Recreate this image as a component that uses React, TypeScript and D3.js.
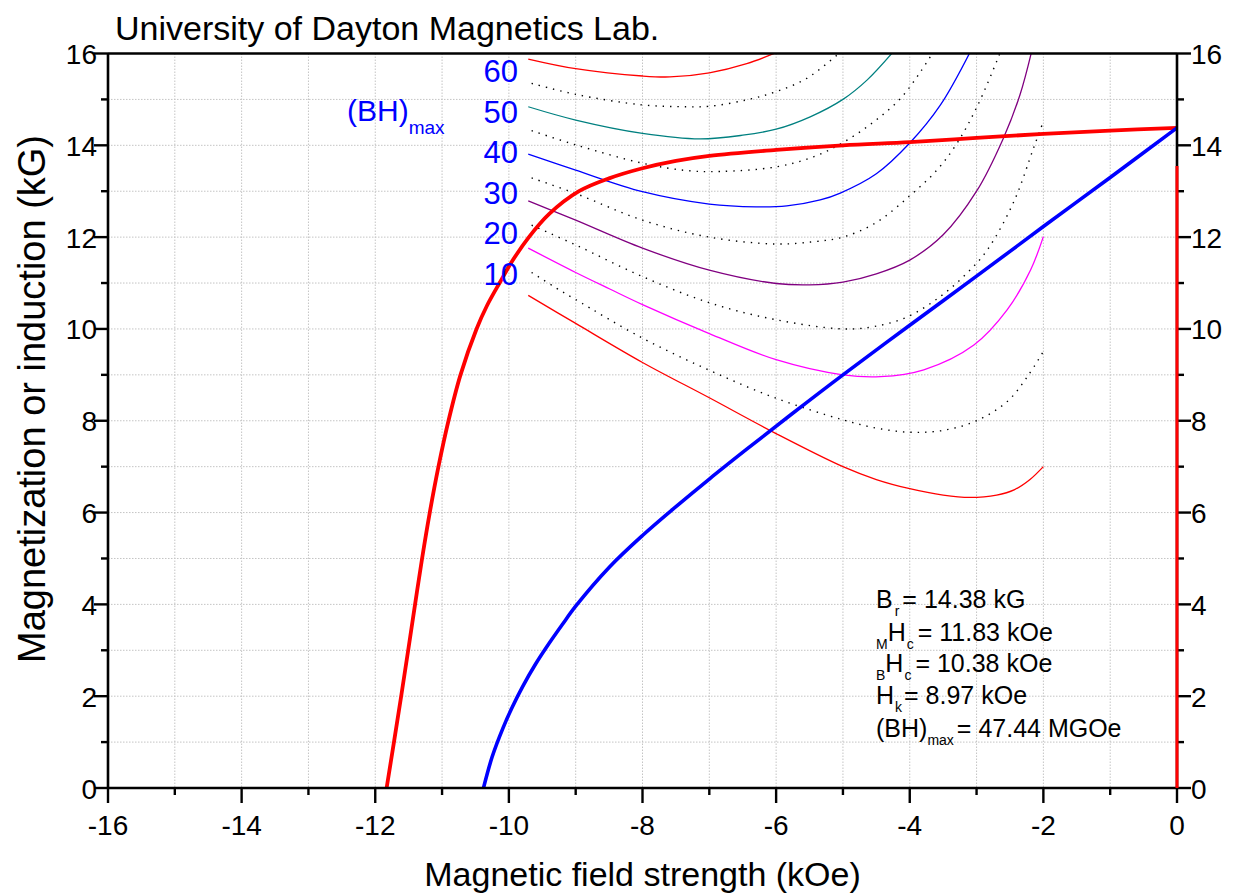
import React from "react";
import * as d3 from "d3";

// ---------- data ----------
const xTickValues = [-16, -14, -12, -10, -8, -6, -4, -2, 0];
const yTickValues = [0, 2, 4, 6, 8, 10, 12, 14, 16];
const xMinorTicks = [-15, -13, -11, -9, -7, -5, -3, -1];
const yMinorTicks = [1, 3, 5, 7, 9, 11, 13, 15];

// intrinsic (magnetization) demag curve, H (kOe) vs 4piM (kG)
const intrinsicCurve: [number, number][] = [
  [-11.83, 0], [-11.72, 1], [-11.612, 2], [-11.507, 3], [-11.404, 4], [-11.299, 5],
  [-11.184, 6], [-11.054, 7], [-10.904, 8], [-10.724, 9], [-10.484, 10], [-10.33, 10.5],
  [-10.14, 11], [-9.94, 11.5], [-9.7, 12], [-9.4, 12.5], [-8.95, 13], [-8.5, 13.28],
  [-8.0, 13.5], [-7.5, 13.66], [-7.0, 13.77], [-6.0, 13.9], [-5.0, 14.0],
  [-4.0, 14.07], [-3.0, 14.16], [-2.0, 14.25], [-1.0, 14.32], [0, 14.38],
];

// normal (induction) demag curve, H (kOe) vs B (kG)
const normalCurve: [number, number][] = [
  [-10.38, 0], [-10.25, 0.68], [-10.09, 1.3], [-9.95, 1.76], [-9.79, 2.22], [-9.6, 2.7],
  [-9.44, 3.06], [-9.2, 3.56], [-9.0, 3.96], [-8.49, 4.82], [-8.0, 5.5], [-7.49, 6.14],
  [-7.0, 6.73], [-6.44, 7.38], [-5.79, 8.12], [-5.0, 9.0], [-4.0, 10.08], [-3.0, 11.15],
  [-2.0, 12.23], [-1.0, 13.3], [0, 14.38],
];

// vertical segment at H = 0
const zeroFieldSegment: [number, number][] = [[0, 0], [0, 13.55]];

// (BH)max iso-energy curves
const bh10: [number, number][] = [[-9.71, 10.73], [-9, 10.12], [-8, 9.27], [-7, 8.5], [-6, 7.72], [-5, 7.0], [-4.5, 6.72], [-4, 6.52], [-3.5, 6.38], [-3.1, 6.33], [-2.7, 6.38], [-2.43, 6.5], [-2.2, 6.72], [-2.0, 7.0]];
const bh15: [number, number][] = [[-9.66, 11.23], [-9.29, 10.89], [-9, 10.64], [-8, 9.8], [-7, 9.1], [-6, 8.49], [-5, 8.02], [-4.5, 7.84], [-4, 7.75], [-3.5, 7.79], [-3, 8.0], [-2.54, 8.42], [-2.24, 8.96], [-2, 9.51]];
const bh20: [number, number][] = [[-9.71, 11.76], [-9, 11.23], [-8.49, 10.87], [-8, 10.53], [-7, 9.9], [-6, 9.33], [-5, 9.0], [-4.44, 8.96], [-3.79, 9.11], [-3.04, 9.65], [-2.54, 10.42], [-2.19, 11.29], [-2, 12.01]];
const bh25: [number, number][] = [[-9.66, 12.26], [-9, 11.83], [-8, 11.14], [-7, 10.57], [-6, 10.2], [-5, 10.0], [-4.54, 10.05], [-4.04, 10.26], [-3.54, 10.71], [-3.14, 11.22], [-2.84, 11.72], [-2.44, 12.78], [-2.14, 13.97], [-2.0, 14.52]];
const bh30: [number, number][] = [[-9.71, 12.79], [-9, 12.37], [-8, 11.76], [-7, 11.28], [-6, 10.99], [-5.5, 10.96], [-5, 11.02], [-4.5, 11.2], [-4, 11.5], [-3.5, 12.05], [-3, 13.0], [-2.6, 14.15], [-2.35, 15.1], [-2.15, 16.2]];
const bh35: [number, number][] = [[-9.66, 13.29], [-9, 12.95], [-8, 12.37], [-7, 12.0], [-6, 11.85], [-5.44, 11.9], [-5, 12.0], [-4.5, 12.32], [-4.0, 12.9], [-3.6, 13.45], [-3.29, 14.05], [-2.99, 14.85], [-2.69, 15.86], [-2.6, 16.2]];
const bh40: [number, number][] = [[-9.71, 13.81], [-9, 13.46], [-8, 12.99], [-7, 12.72], [-6.3, 12.66], [-5.84, 12.68], [-5.34, 12.81], [-5.04, 12.96], [-4.5, 13.38], [-4, 14.05], [-3.54, 14.88], [-3.1, 16.02]];
const bh45: [number, number][] = [[-9.66, 14.32], [-9, 14.01], [-8, 13.61], [-7.34, 13.45], [-6.84, 13.43], [-6, 13.53], [-5.44, 13.75], [-5.0, 14.06], [-4.54, 14.51], [-4.14, 15.02], [-3.84, 15.6], [-3.62, 16.1]];
const bh50: [number, number][] = [[-9.71, 14.84], [-9, 14.55], [-8, 14.26], [-7.14, 14.14], [-6.5, 14.22], [-6, 14.35], [-5.49, 14.62], [-5.0, 15.0], [-4.64, 15.42], [-4.24, 16.05]];
const bh55: [number, number][] = [[-9.66, 15.35], [-9, 15.11], [-8, 14.88], [-7.34, 14.84], [-7, 14.85], [-6.44, 14.99], [-6, 15.17], [-5.54, 15.46], [-5.02, 16.05]];
const bh60: [number, number][] = [[-9.71, 15.88], [-9, 15.67], [-8, 15.51], [-7.59, 15.49], [-7, 15.58], [-6.44, 15.78], [-5.95, 16.05]];

const solidBhCurves = [bh10, bh20, bh30, bh40, bh50, bh60];
const solidBhColors = ["#ff0000", "#ff00ff", "#800080", "#0000ff", "#008080", "#ff0000"];
const dottedBhCurves = [bh15, bh25, bh35, bh45, bh55];
const bhLabels = ["60", "50", "40", "30", "20", "10"];

const titleText = "University of Dayton Magnetics Lab.";
const xAxisTitle = "Magnetic field strength (kOe)";
const yAxisTitle = "Magnetization or induction (kG)";

// ---------- layout ----------
const W = 1233;
const H = 896;
const left = 108;
const right = 1177;
const top = 53.5;
const bottom = 788;
const FONT = "'Liberation Sans', Arial, Helvetica, sans-serif";

export default function App() {
  const x = d3.scaleLinear().domain([-16, 0]).range([left, right]);
  const y = d3.scaleLinear().domain([0, 16]).range([bottom, top]);
  const line = d3
    .line<[number, number]>()
    .x((d) => x(d[0]))
    .y((d) => y(d[1]))
    .curve(d3.curveCatmullRom.alpha(0.5));
  const straight = d3
    .line<[number, number]>()
    .x((d) => x(d[0]))
    .y((d) => y(d[1]));

  const gridX = d3.range(-15, 0);
  const gridY = d3.range(1, 16);

  return (
    <svg
      width={W}
      height={H}
      style={{ position: "absolute", left: 0, top: 0, background: "#fff" }}
      fontFamily={FONT}
    >
      <defs>
        <clipPath id="plotClip">
          <rect x={left} y={top} width={right - left} height={bottom - top} />
        </clipPath>
      </defs>
      <rect x={0} y={0} width={W} height={H} fill="#fff" />

      {/* grid */}
      <g stroke="#c4c4c4" strokeWidth={1} strokeDasharray="1.5,1.5">
        {gridX.map((v) => (
          <line key={"gx" + v} x1={x(v)} x2={x(v)} y1={top} y2={bottom} />
        ))}
        {gridY.map((v) => (
          <line key={"gy" + v} x1={left} x2={right} y1={y(v)} y2={y(v)} />
        ))}
      </g>

      {/* iso (BH)max curves */}
      <g clipPath="url(#plotClip)" fill="none">
        {dottedBhCurves.map((c, i) => (
          <path
            key={"d" + i}
            d={line(c) || ""}
            stroke="#000"
            strokeWidth={1.4}
            strokeDasharray="1.4,6"
          />
        ))}
        {solidBhCurves.map((c, i) => (
          <path key={"s" + i} d={line(c) || ""} stroke={solidBhColors[i]} strokeWidth={1.3} />
        ))}
        <path d={line(intrinsicCurve) || ""} stroke="#ff0000" strokeWidth={3.8} />
        <path d={line(normalCurve) || ""} stroke="#0000ff" strokeWidth={3.6} />
      </g>

      {/* frame */}
      <g stroke="#000" strokeWidth={2.6} fill="none">
        <line x1={left} x2={right} y1={top} y2={top} />
        <line x1={left} x2={right} y1={bottom} y2={bottom} />
        <line x1={left} x2={left} y1={top} y2={bottom} />
        <line x1={right} x2={right} y1={top} y2={bottom} />
      </g>

      {/* ticks */}
      <g stroke="#000" strokeWidth={2.4}>
        {xTickValues.map((v) => (
          <line key={"xt" + v} x1={x(v)} x2={x(v)} y1={bottom} y2={bottom + 15} />
        ))}
        {xMinorTicks.map((v) => (
          <line key={"xm" + v} x1={x(v)} x2={x(v)} y1={bottom} y2={bottom + 7} />
        ))}
        {yTickValues.map((v) => (
          <line key={"ylt" + v} x1={left - 14} x2={left} y1={y(v)} y2={y(v)} />
        ))}
        {yMinorTicks.map((v) => (
          <line key={"ylm" + v} x1={left - 7} x2={left} y1={y(v)} y2={y(v)} />
        ))}
        {yTickValues.map((v) => (
          <line key={"yrt" + v} x1={right} x2={right + 14} y1={y(v)} y2={y(v)} />
        ))}
        {yMinorTicks.map((v) => (
          <line key={"yrm" + v} x1={right} x2={right + 7} y1={y(v)} y2={y(v)} />
        ))}
      </g>

      {/* red segment along H = 0 */}
      <path d={straight(zeroFieldSegment) || ""} stroke="#ff0000" strokeWidth={3} fill="none" />

      {/* tick labels */}
      <g fontSize={28} fill="#000">
        {xTickValues.map((v) => (
          <text key={"xl" + v} x={x(v)} y={bottom + 47} textAnchor="middle">
            {String(v)}
          </text>
        ))}
        {yTickValues.map((v) => (
          <text key={"yl" + v} x={left - 11} y={y(v) + 1} textAnchor="end" dominantBaseline="central">
            {String(v)}
          </text>
        ))}
        {yTickValues.map((v) => (
          <text key={"yr" + v} x={right + 14} y={y(v) + 1} textAnchor="start" dominantBaseline="central">
            {String(v)}
          </text>
        ))}
      </g>

      {/* titles */}
      <text x={115} y={40} fontSize={34} fill="#000">
        {titleText}
      </text>
      <text x={(left + right) / 2} y={886} fontSize={34} textAnchor="middle" fill="#000">
        {xAxisTitle}
      </text>
      <text
        transform={`translate(45, 399) rotate(-90)`}
        fontSize={38}
        textAnchor="middle"
        fill="#000"
      >
        {yAxisTitle}
      </text>

      {/* (BH)max labels */}
      <g fill="#0000ff">
        <text x={347} y={121} fontSize={30}>
          (BH)
          <tspan fontSize={19} dy={13}>
            max
          </tspan>
        </text>
        {bhLabels.map((s, i) => (
          <text key={"bl" + s} x={518} y={82 + i * 40.6} fontSize={31} textAnchor="end">
            {s}
          </text>
        ))}
      </g>

      {/* property annotations */}
      <g fontSize={25} fill="#000">
        <text x={876} y={608}>
          B<tspan fontSize={14} dy={8} dx={2}>r</tspan>
          <tspan dy={-8} dx={3}>= 14.38 kG</tspan>
        </text>
        <text x={876} y={641}>
          <tspan fontSize={14} dy={8}>M</tspan>
          <tspan dy={-8}>H</tspan>
          <tspan fontSize={14} dy={8} dx={1}>c</tspan>
          <tspan dy={-8} dx={4}>= 11.83 kOe</tspan>
        </text>
        <text x={876} y={672}>
          <tspan fontSize={14} dy={8}>B</tspan>
          <tspan dy={-8}>H</tspan>
          <tspan fontSize={14} dy={8} dx={1}>c</tspan>
          <tspan dy={-8} dx={4}>= 10.38 kOe</tspan>
        </text>
        <text x={876} y={704}>
          H<tspan fontSize={14} dy={8} dx={1}>k</tspan>
          <tspan dy={-8} dx={2}>= 8.97 kOe</tspan>
        </text>
        <text x={876} y={737}>
          (BH)<tspan fontSize={14} dy={8}>max</tspan>
          <tspan dy={-8} dx={3}>= 47.44 MGOe</tspan>
        </text>
      </g>
    </svg>
  );
}
